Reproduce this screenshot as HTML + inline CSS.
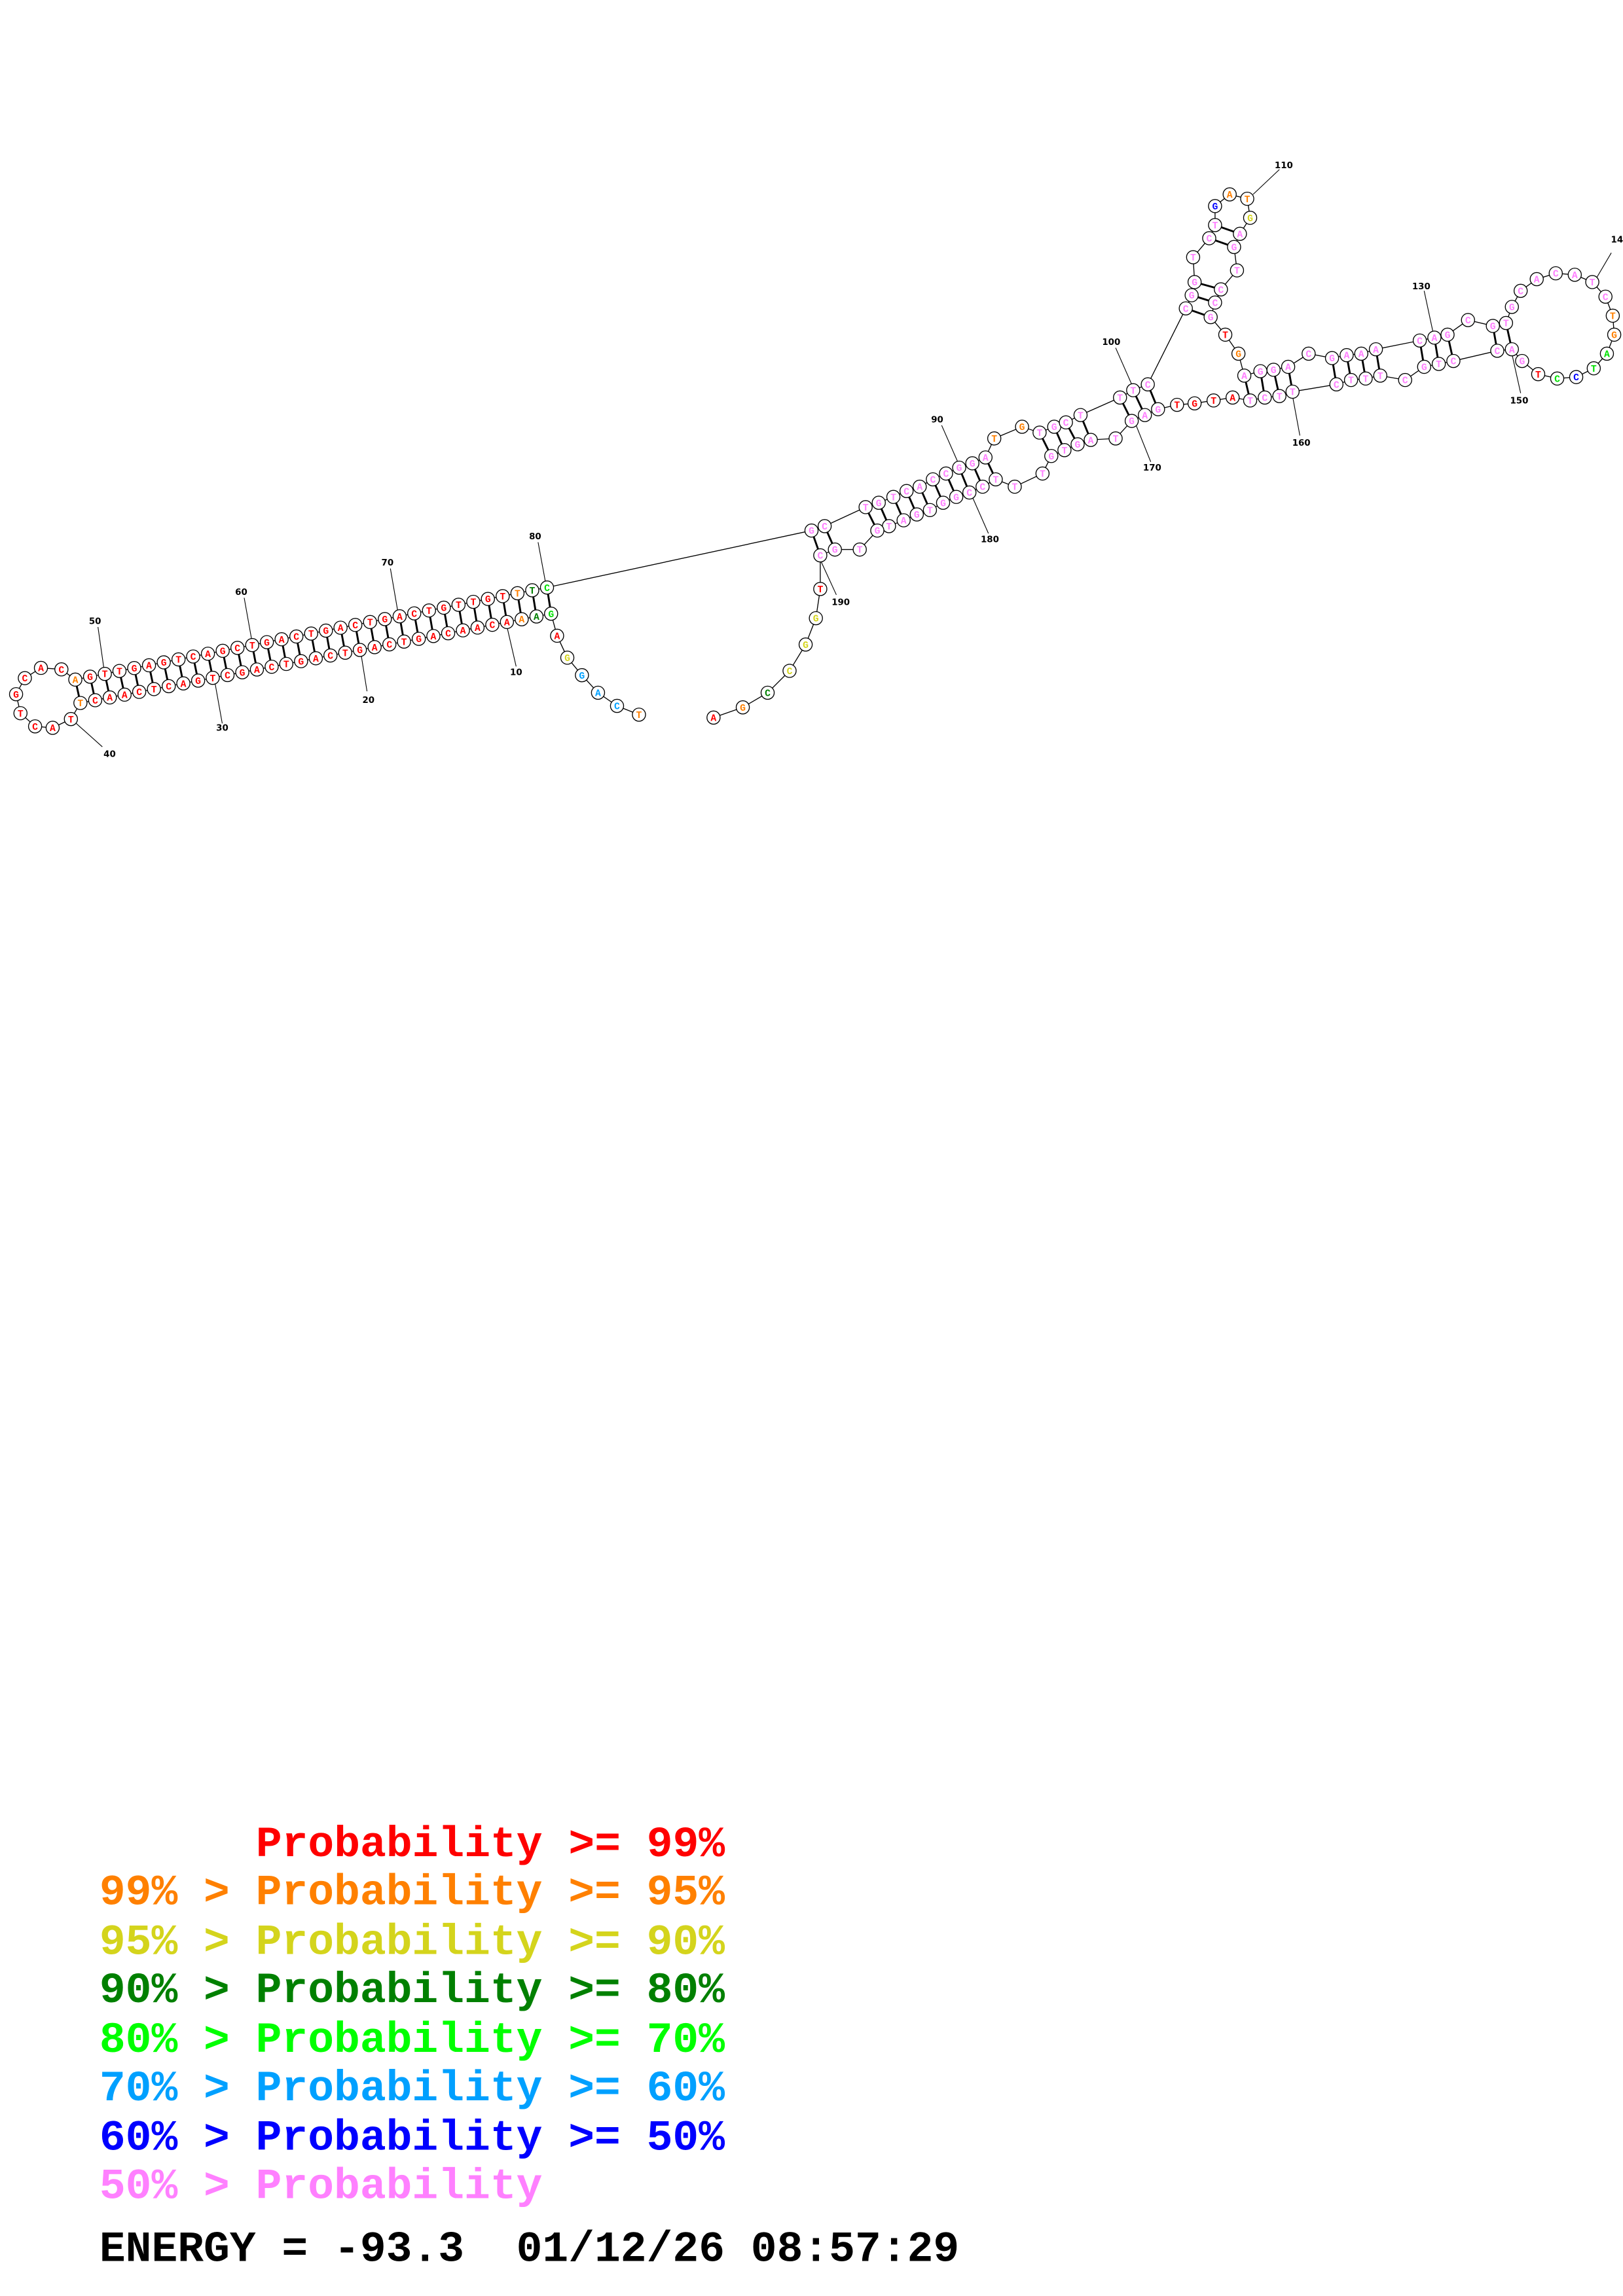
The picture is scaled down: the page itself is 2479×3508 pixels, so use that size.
<!DOCTYPE html>
<html><head><meta charset="utf-8"><style>
html,body{margin:0;padding:0;background:#fff;}
svg{display:block;}
.n circle{fill:#fff;stroke:#000;stroke-width:.6}
.t text{font-family:"Liberation Mono",monospace;font-weight:bold;font-size:6.6px;text-anchor:middle}
.lbl{font-family:"DejaVu Sans","Liberation Sans",sans-serif;font-size:6px;font-weight:bold;text-anchor:middle}
.lg text{font-family:"Liberation Mono",monospace;font-weight:bold;font-size:29.7px;white-space:pre}
</style></head><body>
<svg width="2479" height="3508" viewBox="0 0 1110 1571" preserveAspectRatio="none" xmlns="http://www.w3.org/2000/svg">
<rect width="1110" height="1571" fill="#fff"/>
<!-- backbone -->
<polyline fill="none" stroke="#000" stroke-width=".6" points="437,489 422,483 409,474 398,462 388,450 381,435 376.9,419.9 366.9,421.8 356.8,423.7 346.7,425.6 336.7,427.5 326.6,429.4 316.6,431.3 306.5,433.3 296.4,435.2 286.4,437.1 276.3,439 266.3,440.9 256.2,442.8 246.1,444.7 236.1,446.6 226,448.5 216,450.4 205.9,452.4 195.8,454.3 185.8,456.2 175.7,458.1 165.7,460 155.6,461.9 145.5,463.8 135.5,465.7 125.4,467.6 115.4,469.5 105.3,471.5 95.2,473.4 85.2,475.3 75.1,477.2 65.1,479.1 55,481 48.5,492 36,498 24,497 14,488 11,475 17,464 28,457 42,458 51.5,465 61.6,463 71.7,461.1 81.7,459.1 91.8,457.1 101.9,455.2 112,453.2 122.1,451.2 132.1,449.2 142.2,447.3 152.3,445.3 162.4,443.3 172.5,441.4 182.5,439.4 192.6,437.4 202.7,435.5 212.8,433.5 222.9,431.5 232.9,429.5 243,427.6 253.1,425.6 263.2,423.6 273.3,421.7 283.3,419.7 293.4,417.7 303.5,415.8 313.6,413.8 323.7,411.8 333.7,409.8 343.8,407.9 353.9,405.9 364,403.9 374.1,402 555,363 564,360 592,347 601,344 611,340 620,336 629,333 638,328 647,324 656,320 665,317 674,313 680,300 699,292 711,296 721,292 729,289 739,284 766,272 775,267 785,263 811,211 815,202 817,193 816,176 827,163 831,154 831,141 841,133 853,136 855,149 848,160 844,169 846,185 835,198 831,207 828,217 838,229 847,242 851,257 862,254 871,253 881,251 895,242 911,245 921,243 931,242 941,239 971,233 981,231 990,229 1004,219 1021,223 1030,221 1034,210 1040,199 1051,191 1064,187 1077,188 1089,193 1098,203 1103,216 1104,229 1099,242 1090,252 1078,258 1065,259 1052,256 1041,247 1034,239 1024,240 994,247 984,249 974,251 961,260 944,257 934,259 924,260 914,263 884,268 875,271 865,272 855,274 843,272 830,274 817,276 805,277 792,280 783,284 774,288 763,300 746,301 737,304 728,308 719,312 713,324 694,333 681,328 672,333 663,337 654,340 645,344 636,349 627,352 618,356 608,360 600,363 588,376 571,376 561,380 561,403 558,423 551,441 540,459 525,474 508,484 488,491"/>
<!-- pairs -->
<g stroke="#000" stroke-width="1.3">
<line x1="51.5" y1="465" x2="55" y2="481"/><line x1="61.6" y1="463" x2="65.1" y2="479.1"/><line x1="71.7" y1="461.1" x2="75.1" y2="477.2"/><line x1="81.7" y1="459.1" x2="85.2" y2="475.3"/><line x1="91.8" y1="457.1" x2="95.2" y2="473.4"/><line x1="101.9" y1="455.2" x2="105.3" y2="471.5"/><line x1="112" y1="453.2" x2="115.4" y2="469.5"/><line x1="122.1" y1="451.2" x2="125.4" y2="467.6"/><line x1="132.1" y1="449.2" x2="135.5" y2="465.7"/><line x1="142.2" y1="447.3" x2="145.5" y2="463.8"/><line x1="152.3" y1="445.3" x2="155.6" y2="461.9"/><line x1="162.4" y1="443.3" x2="165.7" y2="460"/><line x1="172.5" y1="441.4" x2="175.7" y2="458.1"/><line x1="182.5" y1="439.4" x2="185.8" y2="456.2"/><line x1="192.6" y1="437.4" x2="195.8" y2="454.3"/><line x1="202.7" y1="435.5" x2="205.9" y2="452.4"/><line x1="212.8" y1="433.5" x2="216" y2="450.4"/><line x1="222.9" y1="431.5" x2="226" y2="448.5"/><line x1="232.9" y1="429.5" x2="236.1" y2="446.6"/><line x1="243" y1="427.6" x2="246.1" y2="444.7"/><line x1="253.1" y1="425.6" x2="256.2" y2="442.8"/><line x1="263.2" y1="423.6" x2="266.3" y2="440.9"/><line x1="273.3" y1="421.7" x2="276.3" y2="439"/><line x1="283.3" y1="419.7" x2="286.4" y2="437.1"/><line x1="293.4" y1="417.7" x2="296.4" y2="435.2"/><line x1="303.5" y1="415.8" x2="306.5" y2="433.3"/><line x1="313.6" y1="413.8" x2="316.6" y2="431.3"/><line x1="323.7" y1="411.8" x2="326.6" y2="429.4"/><line x1="333.7" y1="409.8" x2="336.7" y2="427.5"/><line x1="343.8" y1="407.9" x2="346.7" y2="425.6"/><line x1="353.9" y1="405.9" x2="356.8" y2="423.7"/><line x1="364" y1="403.9" x2="366.9" y2="421.8"/><line x1="374.1" y1="402" x2="376.9" y2="419.9"/>
<line x1="564" y1="360" x2="571" y2="376"/><line x1="555" y1="363" x2="561" y2="380"/>
<line x1="592" y1="347" x2="600" y2="363"/><line x1="601" y1="344" x2="608" y2="360"/><line x1="611" y1="340" x2="618" y2="356"/><line x1="620" y1="336" x2="627" y2="352"/><line x1="629" y1="333" x2="636" y2="349"/><line x1="638" y1="328" x2="645" y2="344"/><line x1="647" y1="324" x2="654" y2="340"/><line x1="656" y1="320" x2="663" y2="337"/><line x1="665" y1="317" x2="672" y2="333"/><line x1="674" y1="313" x2="681" y2="328"/>
<line x1="711" y1="296" x2="719" y2="312"/><line x1="721" y1="292" x2="728" y2="308"/><line x1="729" y1="289" x2="737" y2="304"/><line x1="739" y1="284" x2="746" y2="301"/>
<line x1="766" y1="272" x2="774" y2="288"/><line x1="775" y1="267" x2="783" y2="284"/><line x1="785" y1="263" x2="792" y2="280"/>
<line x1="831" y1="154" x2="848" y2="160"/><line x1="827" y1="163" x2="844" y2="169"/><line x1="817" y1="193" x2="835" y2="198"/><line x1="815" y1="202" x2="831" y2="207"/><line x1="811" y1="211" x2="828" y2="217"/>
<line x1="851" y1="257" x2="855" y2="274"/><line x1="862" y1="254" x2="865" y2="272"/><line x1="871" y1="253" x2="875" y2="271"/><line x1="881" y1="251" x2="884" y2="268"/>
<line x1="911" y1="245" x2="914" y2="263"/><line x1="921" y1="243" x2="924" y2="260"/><line x1="931" y1="242" x2="934" y2="259"/><line x1="941" y1="239" x2="944" y2="257"/>
<line x1="971" y1="233" x2="974" y2="251"/><line x1="981" y1="231" x2="984" y2="249"/><line x1="990" y1="229" x2="994" y2="247"/>
<line x1="1021" y1="223" x2="1024" y2="240"/><line x1="1030" y1="221" x2="1034" y2="239"/>
</g>
<!-- label ticks -->
<g stroke="#000" stroke-width=".5">
<line x1="67" y1="429" x2="71" y2="457"/><line x1="51" y1="494" x2="70" y2="511"/><line x1="147" y1="467" x2="152" y2="495"/>
<line x1="167" y1="409" x2="172" y2="437"/><line x1="267" y1="389" x2="272" y2="418"/><line x1="368" y1="371" x2="373" y2="398"/>
<line x1="247" y1="448" x2="251" y2="473"/><line x1="347" y1="430" x2="353" y2="456"/>
<line x1="644" y1="291" x2="655" y2="316"/><line x1="665" y1="340" x2="676" y2="365"/><line x1="763" y1="238" x2="774" y2="263"/><line x1="777" y1="291" x2="787" y2="316"/>
<line x1="875" y1="116" x2="857" y2="133"/><line x1="974" y1="199" x2="980" y2="227"/><line x1="1034" y1="242" x2="1040" y2="269"/><line x1="1102" y1="173" x2="1092" y2="190"/>
<line x1="884" y1="271" x2="889" y2="298"/><line x1="561" y1="383" x2="572" y2="407"/>
</g>
<g class="lbl">
<text x="65" y="427">50</text><text x="75" y="518">40</text><text x="152" y="500">30</text><text x="165" y="407">60</text><text x="265" y="387">70</text><text x="366" y="369">80</text><text x="252" y="481">20</text><text x="353" y="462">10</text>
<text x="641" y="289">90</text><text x="677" y="371">180</text><text x="760" y="236">100</text><text x="788" y="322">170</text><text x="878" y="115">110</text><text x="972" y="198">130</text><text x="1039" y="276">150</text><text x="890" y="305">160</text><text x="1108" y="166">140</text><text x="575" y="414">190</text>
</g>
<!-- nodes -->
<g class="n">
<circle cx="437" cy="489" r="4.5"/><circle cx="422" cy="483" r="4.5"/><circle cx="409" cy="474" r="4.5"/><circle cx="398" cy="462" r="4.5"/><circle cx="388" cy="450" r="4.5"/><circle cx="381" cy="435" r="4.5"/>
<circle cx="376.9" cy="419.9" r="4.5"/><circle cx="366.9" cy="421.8" r="4.5"/><circle cx="356.8" cy="423.7" r="4.5"/><circle cx="346.7" cy="425.6" r="4.5"/><circle cx="336.7" cy="427.5" r="4.5"/><circle cx="326.6" cy="429.4" r="4.5"/><circle cx="316.6" cy="431.3" r="4.5"/><circle cx="306.5" cy="433.3" r="4.5"/><circle cx="296.4" cy="435.2" r="4.5"/><circle cx="286.4" cy="437.1" r="4.5"/><circle cx="276.3" cy="439" r="4.5"/><circle cx="266.3" cy="440.9" r="4.5"/><circle cx="256.2" cy="442.8" r="4.5"/><circle cx="246.1" cy="444.7" r="4.5"/><circle cx="236.1" cy="446.6" r="4.5"/><circle cx="226" cy="448.5" r="4.5"/><circle cx="216" cy="450.4" r="4.5"/><circle cx="205.9" cy="452.4" r="4.5"/><circle cx="195.8" cy="454.3" r="4.5"/><circle cx="185.8" cy="456.2" r="4.5"/><circle cx="175.7" cy="458.1" r="4.5"/><circle cx="165.7" cy="460" r="4.5"/><circle cx="155.6" cy="461.9" r="4.5"/><circle cx="145.5" cy="463.8" r="4.5"/><circle cx="135.5" cy="465.7" r="4.5"/><circle cx="125.4" cy="467.6" r="4.5"/><circle cx="115.4" cy="469.5" r="4.5"/><circle cx="105.3" cy="471.5" r="4.5"/><circle cx="95.2" cy="473.4" r="4.5"/><circle cx="85.2" cy="475.3" r="4.5"/><circle cx="75.1" cy="477.2" r="4.5"/><circle cx="65.1" cy="479.1" r="4.5"/><circle cx="55" cy="481" r="4.5"/>
<circle cx="48.5" cy="492" r="4.5"/><circle cx="36" cy="498" r="4.5"/><circle cx="24" cy="497" r="4.5"/><circle cx="14" cy="488" r="4.5"/><circle cx="11" cy="475" r="4.5"/><circle cx="17" cy="464" r="4.5"/><circle cx="28" cy="457" r="4.5"/><circle cx="42" cy="458" r="4.5"/>
<circle cx="51.5" cy="465" r="4.5"/><circle cx="61.6" cy="463" r="4.5"/><circle cx="71.7" cy="461.1" r="4.5"/><circle cx="81.7" cy="459.1" r="4.5"/><circle cx="91.8" cy="457.1" r="4.5"/><circle cx="101.9" cy="455.2" r="4.5"/><circle cx="112" cy="453.2" r="4.5"/><circle cx="122.1" cy="451.2" r="4.5"/><circle cx="132.1" cy="449.2" r="4.5"/><circle cx="142.2" cy="447.3" r="4.5"/><circle cx="152.3" cy="445.3" r="4.5"/><circle cx="162.4" cy="443.3" r="4.5"/><circle cx="172.5" cy="441.4" r="4.5"/><circle cx="182.5" cy="439.4" r="4.5"/><circle cx="192.6" cy="437.4" r="4.5"/><circle cx="202.7" cy="435.5" r="4.5"/><circle cx="212.8" cy="433.5" r="4.5"/><circle cx="222.9" cy="431.5" r="4.5"/><circle cx="232.9" cy="429.5" r="4.5"/><circle cx="243" cy="427.6" r="4.5"/><circle cx="253.1" cy="425.6" r="4.5"/><circle cx="263.2" cy="423.6" r="4.5"/><circle cx="273.3" cy="421.7" r="4.5"/><circle cx="283.3" cy="419.7" r="4.5"/><circle cx="293.4" cy="417.7" r="4.5"/><circle cx="303.5" cy="415.8" r="4.5"/><circle cx="313.6" cy="413.8" r="4.5"/><circle cx="323.7" cy="411.8" r="4.5"/><circle cx="333.7" cy="409.8" r="4.5"/><circle cx="343.8" cy="407.9" r="4.5"/><circle cx="353.9" cy="405.9" r="4.5"/><circle cx="364" cy="403.9" r="4.5"/><circle cx="374.1" cy="402" r="4.5"/>
<circle cx="555" cy="363" r="4.5"/><circle cx="564" cy="360" r="4.5"/><circle cx="592" cy="347" r="4.5"/><circle cx="601" cy="344" r="4.5"/><circle cx="611" cy="340" r="4.5"/><circle cx="620" cy="336" r="4.5"/><circle cx="629" cy="333" r="4.5"/><circle cx="638" cy="328" r="4.5"/><circle cx="647" cy="324" r="4.5"/><circle cx="656" cy="320" r="4.5"/><circle cx="665" cy="317" r="4.5"/><circle cx="674" cy="313" r="4.5"/><circle cx="680" cy="300" r="4.5"/><circle cx="699" cy="292" r="4.5"/><circle cx="711" cy="296" r="4.5"/><circle cx="721" cy="292" r="4.5"/><circle cx="729" cy="289" r="4.5"/><circle cx="739" cy="284" r="4.5"/><circle cx="766" cy="272" r="4.5"/><circle cx="775" cy="267" r="4.5"/><circle cx="785" cy="263" r="4.5"/>
<circle cx="811" cy="211" r="4.5"/><circle cx="815" cy="202" r="4.5"/><circle cx="817" cy="193" r="4.5"/><circle cx="816" cy="176" r="4.5"/><circle cx="827" cy="163" r="4.5"/><circle cx="831" cy="154" r="4.5"/><circle cx="831" cy="141" r="4.5"/><circle cx="841" cy="133" r="4.5"/><circle cx="853" cy="136" r="4.5"/><circle cx="855" cy="149" r="4.5"/><circle cx="848" cy="160" r="4.5"/><circle cx="844" cy="169" r="4.5"/><circle cx="846" cy="185" r="4.5"/><circle cx="835" cy="198" r="4.5"/><circle cx="831" cy="207" r="4.5"/><circle cx="828" cy="217" r="4.5"/><circle cx="838" cy="229" r="4.5"/><circle cx="847" cy="242" r="4.5"/>
<circle cx="851" cy="257" r="4.5"/><circle cx="862" cy="254" r="4.5"/><circle cx="871" cy="253" r="4.5"/><circle cx="881" cy="251" r="4.5"/><circle cx="895" cy="242" r="4.5"/><circle cx="911" cy="245" r="4.5"/><circle cx="921" cy="243" r="4.5"/><circle cx="931" cy="242" r="4.5"/><circle cx="941" cy="239" r="4.5"/><circle cx="971" cy="233" r="4.5"/><circle cx="981" cy="231" r="4.5"/><circle cx="990" cy="229" r="4.5"/><circle cx="1004" cy="219" r="4.5"/><circle cx="1021" cy="223" r="4.5"/><circle cx="1030" cy="221" r="4.5"/><circle cx="1034" cy="210" r="4.5"/><circle cx="1040" cy="199" r="4.5"/><circle cx="1051" cy="191" r="4.5"/><circle cx="1064" cy="187" r="4.5"/><circle cx="1077" cy="188" r="4.5"/><circle cx="1089" cy="193" r="4.5"/><circle cx="1098" cy="203" r="4.5"/><circle cx="1103" cy="216" r="4.5"/><circle cx="1104" cy="229" r="4.5"/><circle cx="1099" cy="242" r="4.5"/><circle cx="1090" cy="252" r="4.5"/><circle cx="1078" cy="258" r="4.5"/><circle cx="1065" cy="259" r="4.5"/><circle cx="1052" cy="256" r="4.5"/><circle cx="1041" cy="247" r="4.5"/><circle cx="1034" cy="239" r="4.5"/><circle cx="1024" cy="240" r="4.5"/><circle cx="994" cy="247" r="4.5"/><circle cx="984" cy="249" r="4.5"/><circle cx="974" cy="251" r="4.5"/><circle cx="961" cy="260" r="4.5"/><circle cx="944" cy="257" r="4.5"/><circle cx="934" cy="259" r="4.5"/><circle cx="924" cy="260" r="4.5"/><circle cx="914" cy="263" r="4.5"/><circle cx="884" cy="268" r="4.5"/><circle cx="875" cy="271" r="4.5"/><circle cx="865" cy="272" r="4.5"/><circle cx="855" cy="274" r="4.5"/><circle cx="843" cy="272" r="4.5"/><circle cx="830" cy="274" r="4.5"/><circle cx="817" cy="276" r="4.5"/><circle cx="805" cy="277" r="4.5"/>
<circle cx="792" cy="280" r="4.5"/><circle cx="783" cy="284" r="4.5"/><circle cx="774" cy="288" r="4.5"/><circle cx="763" cy="300" r="4.5"/><circle cx="746" cy="301" r="4.5"/><circle cx="737" cy="304" r="4.5"/><circle cx="728" cy="308" r="4.5"/><circle cx="719" cy="312" r="4.5"/><circle cx="713" cy="324" r="4.5"/><circle cx="694" cy="333" r="4.5"/><circle cx="681" cy="328" r="4.5"/><circle cx="672" cy="333" r="4.5"/><circle cx="663" cy="337" r="4.5"/><circle cx="654" cy="340" r="4.5"/><circle cx="645" cy="344" r="4.5"/><circle cx="636" cy="349" r="4.5"/><circle cx="627" cy="352" r="4.5"/><circle cx="618" cy="356" r="4.5"/><circle cx="608" cy="360" r="4.5"/><circle cx="600" cy="363" r="4.5"/><circle cx="588" cy="376" r="4.5"/><circle cx="571" cy="376" r="4.5"/><circle cx="561" cy="380" r="4.5"/>
<circle cx="561" cy="403" r="4.5"/><circle cx="558" cy="423" r="4.5"/><circle cx="551" cy="441" r="4.5"/><circle cx="540" cy="459" r="4.5"/><circle cx="525" cy="474" r="4.5"/><circle cx="508" cy="484" r="4.5"/><circle cx="488" cy="491" r="4.5"/>
</g>
<!-- letters -->
<g class="t" fill="#ff0000"><g>
<text x="381" y="437.3">A</text><text x="346.7" y="427.9">A</text><text x="336.7" y="429.8">C</text><text x="326.6" y="431.7">A</text><text x="316.6" y="433.6">A</text><text x="306.5" y="435.6">C</text><text x="296.4" y="437.5">A</text><text x="286.4" y="439.4">G</text><text x="276.3" y="441.3">T</text><text x="266.3" y="443.2">C</text><text x="256.2" y="445.1">A</text><text x="246.1" y="447">G</text><text x="236.1" y="448.9">T</text><text x="226" y="450.8">C</text><text x="216" y="452.7">A</text><text x="205.9" y="454.7">G</text><text x="195.8" y="456.6">T</text><text x="185.8" y="458.5">C</text><text x="175.7" y="460.4">A</text><text x="165.7" y="462.3">G</text><text x="155.6" y="464.2">C</text><text x="145.5" y="466.1">T</text><text x="135.5" y="468">G</text><text x="125.4" y="469.9">A</text><text x="115.4" y="471.8">C</text><text x="105.3" y="473.8">T</text><text x="95.2" y="475.7">C</text><text x="85.2" y="477.6">A</text><text x="75.1" y="479.5">A</text><text x="65.1" y="481.4">C</text>
<text x="48.5" y="494.3">T</text><text x="36" y="500.3">A</text><text x="24" y="499.3">C</text><text x="14" y="490.3">T</text><text x="11" y="477.3">G</text><text x="17" y="466.3">C</text><text x="28" y="459.3">A</text><text x="42" y="460.3">C</text>
<text x="61.6" y="465.3">G</text><text x="71.7" y="463.4">T</text><text x="81.7" y="461.4">T</text><text x="91.8" y="459.4">G</text><text x="101.9" y="457.5">A</text><text x="112" y="455.5">G</text><text x="122.1" y="453.5">T</text><text x="132.1" y="451.5">C</text><text x="142.2" y="449.6">A</text><text x="152.3" y="447.6">G</text><text x="162.4" y="445.6">C</text><text x="172.5" y="443.7">T</text><text x="182.5" y="441.7">G</text><text x="192.6" y="439.7">A</text><text x="202.7" y="437.8">C</text><text x="212.8" y="435.8">T</text><text x="222.9" y="433.8">G</text><text x="232.9" y="431.8">A</text><text x="243" y="429.9">C</text><text x="253.1" y="427.9">T</text><text x="263.2" y="425.9">G</text><text x="273.3" y="424">A</text><text x="283.3" y="422">C</text><text x="293.4" y="420">T</text><text x="303.5" y="418.1">G</text><text x="313.6" y="416.1">T</text><text x="323.7" y="414.1">T</text><text x="333.7" y="412.1">G</text><text x="343.8" y="410.2">T</text>
<text x="838" y="231.3">T</text><text x="843" y="274.3">A</text><text x="830" y="276.3">T</text><text x="817" y="278.3">G</text><text x="805" y="279.3">T</text><text x="1052" y="258.3">T</text><text x="561" y="405.3">T</text><text x="488" y="493.3">A</text>
</g></g>
<g class="t" fill="#ff8000">
<text x="437" y="491.3">T</text><text x="356.8" y="426">A</text><text x="55" y="483.3">T</text><text x="51.5" y="467.3">A</text><text x="353.9" y="408.2">T</text><text x="680" y="302.3">T</text><text x="699" y="294.3">G</text><text x="841" y="135.3">A</text><text x="853" y="138.3">T</text><text x="847" y="244.3">G</text><text x="1103" y="218.3">T</text><text x="1104" y="231.3">G</text><text x="508" y="486.3">G</text>
</g>
<g class="t" fill="#d4d41c"><text x="388" y="452.3">G</text><text x="855" y="151.3">G</text><text x="558" y="425.3">G</text><text x="551" y="443.3">G</text><text x="540" y="461.3">C</text></g>
<g class="t" fill="#008000"><text x="366.9" y="424.1">A</text><text x="364" y="406.2">T</text><text x="525" y="476.3">C</text></g>
<g class="t" fill="#00e000"><text x="376.9" y="422.2">G</text><text x="374.1" y="404.3">C</text><text x="1099" y="244.3">A</text><text x="1090" y="254.3">T</text><text x="1065" y="261.3">C</text></g>
<g class="t" fill="#00a0ff"><text x="398" y="464.3">G</text><text x="409" y="476.3">A</text><text x="422" y="485.3">C</text></g>
<g class="t" fill="#0000ff"><text x="831" y="143.3">G</text><text x="1078" y="260.3">C</text></g>
<g class="t" fill="#ff80ff">
<text x="555" y="365.3">G</text><text x="564" y="362.3">C</text><text x="592" y="349.3">T</text><text x="601" y="346.3">G</text><text x="611" y="342.3">T</text><text x="620" y="338.3">C</text><text x="629" y="335.3">A</text><text x="638" y="330.3">C</text><text x="647" y="326.3">C</text><text x="656" y="322.3">G</text><text x="665" y="319.3">G</text><text x="674" y="315.3">A</text><text x="711" y="298.3">T</text><text x="721" y="294.3">G</text><text x="729" y="291.3">C</text><text x="739" y="286.3">T</text><text x="766" y="274.3">T</text><text x="775" y="269.3">T</text><text x="785" y="265.3">C</text>
<text x="811" y="213.3">C</text><text x="815" y="204.3">G</text><text x="817" y="195.3">G</text><text x="816" y="178.3">T</text><text x="827" y="165.3">C</text><text x="831" y="156.3">T</text><text x="848" y="162.3">A</text><text x="844" y="171.3">G</text><text x="846" y="187.3">T</text><text x="835" y="200.3">C</text><text x="831" y="209.3">C</text><text x="828" y="219.3">G</text>
<text x="851" y="259.3">A</text><text x="862" y="256.3">G</text><text x="871" y="255.3">G</text><text x="881" y="253.3">A</text><text x="895" y="244.3">C</text><text x="911" y="247.3">G</text><text x="921" y="245.3">A</text><text x="931" y="244.3">A</text><text x="941" y="241.3">A</text><text x="971" y="235.3">C</text><text x="981" y="233.3">A</text><text x="990" y="231.3">G</text><text x="1004" y="221.3">C</text><text x="1021" y="225.3">G</text><text x="1030" y="223.3">T</text><text x="1034" y="212.3">G</text><text x="1040" y="201.3">C</text><text x="1051" y="193.3">A</text><text x="1064" y="189.3">C</text><text x="1077" y="190.3">A</text><text x="1089" y="195.3">T</text><text x="1098" y="205.3">C</text><text x="1041" y="249.3">G</text><text x="1034" y="241.3">A</text><text x="1024" y="242.3">C</text><text x="994" y="249.3">C</text><text x="984" y="251.3">T</text><text x="974" y="253.3">G</text><text x="961" y="262.3">C</text><text x="944" y="259.3">T</text><text x="934" y="261.3">T</text><text x="924" y="262.3">T</text><text x="914" y="265.3">C</text><text x="884" y="270.3">T</text><text x="875" y="273.3">T</text><text x="865" y="274.3">C</text><text x="855" y="276.3">T</text>
<text x="792" y="282.3">G</text><text x="783" y="286.3">A</text><text x="774" y="290.3">G</text><text x="763" y="302.3">T</text><text x="746" y="303.3">A</text><text x="737" y="306.3">G</text><text x="728" y="310.3">T</text><text x="719" y="314.3">G</text><text x="713" y="326.3">T</text><text x="694" y="335.3">T</text><text x="681" y="330.3">T</text><text x="672" y="335.3">C</text><text x="663" y="339.3">C</text><text x="654" y="342.3">G</text><text x="645" y="346.3">G</text><text x="636" y="351.3">T</text><text x="627" y="354.3">G</text><text x="618" y="358.3">A</text><text x="608" y="362.3">T</text><text x="600" y="365.3">G</text><text x="588" y="378.3">T</text><text x="571" y="378.3">G</text><text x="561" y="382.3">C</text>
</g>
<!-- legend -->
<g class="lg">
<text x="175" y="1270" fill="#ff0000">Probability &gt;= 99%</text>
<text x="68" y="1303" fill="#ff8000">99% &gt; Probability &gt;= 95%</text>
<text x="68" y="1337" fill="#d4d41c">95% &gt; Probability &gt;= 90%</text>
<text x="68" y="1370" fill="#008000">90% &gt; Probability &gt;= 80%</text>
<text x="68" y="1404" fill="#00ff00">80% &gt; Probability &gt;= 70%</text>
<text x="68" y="1437" fill="#00a0ff">70% &gt; Probability &gt;= 60%</text>
<text x="68" y="1471" fill="#0000ff">60% &gt; Probability &gt;= 50%</text>
<text x="68" y="1504" fill="#ff80ff">50% &gt; Probability</text>
<text x="68" y="1547" fill="#000">ENERGY = -93.3  01/12/26 08:57:29</text>
</g>
</svg>
</body></html>
